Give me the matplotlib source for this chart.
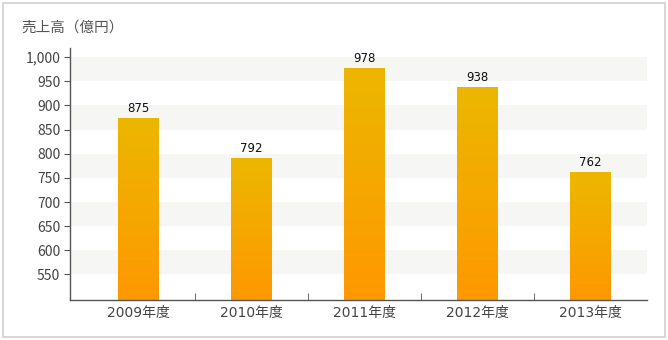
import matplotlib
matplotlib.use("Agg")
import matplotlib.pyplot as plt
import numpy as np
from matplotlib.patches import Rectangle
from matplotlib.colors import LinearSegmentedColormap

categories = ["2009年度", "2010年度", "2011年度", "2012年度", "2013年度"]
values = [875, 792, 978, 938, 762]
yticks = [550, 600, 650, 700, 750, 800, 850, 900, 950, 1000]
ytick_labels = ["550", "600", "650", "700", "750", "800", "850", "900", "950", "1,000"]
title = "売上高（億円）"

plt.rcParams['font.family'] = ['Noto Sans CJK JP', 'DejaVu Sans']

W, H = 668, 340
fig = plt.figure(figsize=(W / 100, H / 100), dpi=100)
fig.patch.set_facecolor("white")
fig.patches.append(Rectangle((3 / W, 3 / H), 662 / W, 334 / H, transform=fig.transFigure,
                             fill=False, edgecolor="#cfcfcf", linewidth=1.2))

ax = fig.add_axes([70 / W, 1 - 300 / H, 577 / W, 252 / H])
ymin, ymax = 497, 1019
ax.set_ylim(ymin, ymax)
ax.set_xlim(-0.606, 4.5)

# alternating bands
for lo in [550, 650, 750, 850, 950]:
    ax.axhspan(lo, lo + 50, color="#f6f6f4", zorder=0, lw=0)

cmap = LinearSegmentedColormap.from_list("g", ["#ff9800", "#f5a800", "#ecb700"])
bw = 0.354
for i, v in enumerate(values):
    rect = Rectangle((i - bw / 2, ymin), bw, v - ymin, facecolor="none", edgecolor="none")
    ax.add_patch(rect)
    grad = np.linspace(0, 1, 256).reshape(-1, 1)
    im = ax.imshow(grad, cmap=cmap, origin="lower", aspect="auto",
                   extent=(i - bw / 2, i + bw / 2, ymin, v), zorder=2)
    im.set_clip_path(rect)
    ax.text(i, v + 6, str(v), ha="center", va="bottom", fontsize=8.5,
            family=['Liberation Sans Narrow', 'DejaVu Sans'], color="#111111", zorder=3)

ax.set_xlim(-0.606, 4.5)
ax.set_ylim(ymin, ymax)

for s in ["top", "right"]:
    ax.spines[s].set_visible(False)
for s in ["left", "bottom"]:
    ax.spines[s].set_color("#555555")
    ax.spines[s].set_linewidth(1.0)

ax.set_yticks(yticks)
ax.set_yticklabels(ytick_labels)
ax.tick_params(axis="y", direction="out", length=4, color="#555555", labelcolor="#444444",
               labelsize=10, pad=3)

ax.set_xticks(range(len(categories)))
ax.set_xticklabels(categories, family=['DejaVu Sans', 'Noto Sans CJK JP'])
ax.tick_params(axis="x", length=0, labelcolor="#444444", labelsize=10, pad=4)
ax.set_xticks([0.5, 1.5, 2.5, 3.5], minor=True)
ax.tick_params(axis="x", which="minor", direction="in", length=5, color="#555555")

fig.text(21 / W, 1 - 28 / H, title, fontsize=10.5, color="#555555", ha="left", va="center")

fig.savefig("out.png", dpi=100)
